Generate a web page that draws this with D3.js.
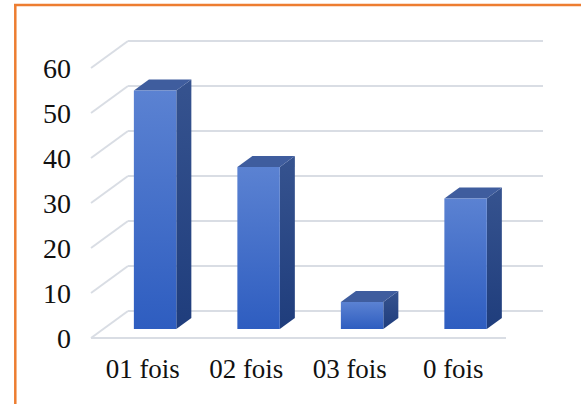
<!DOCTYPE html>
<html>
<head>
    <meta charset="utf-8">
    <script src="https://cdn.jsdelivr.net/npm/d3@7"></script>
</head>
<body style="margin:0">
<script>
    // data
    var categories = ["01 fois", "02 fois", "03 fois", "0 fois"];
    var values = [53, 36, 6, 29];
    var yTicks = [0, 10, 20, 30, 40, 50, 60];

    var width = 581, height = 404;
    var serif = "'Liberation Serif', 'Times New Roman', serif";
    var depthX = 37, depthY = 27;   // floor depth offset (front -> back wall)
    var barFront = 1 / 3, barBack = 0.74; // bar position inside the depth

    var svg = d3.select("body").append("svg")
        .attr("width", width)
        .attr("height", height)
        .style("display", "block")
        .style("font-family", serif);

    // orange frame (top + left only)
    svg.append("line").attr("x1", 14).attr("x2", width).attr("y1", 5).attr("y2", 5)
        .attr("stroke", "#ed7d31").attr("stroke-width", 2.5);
    svg.append("line").attr("x1", 15.3).attr("x2", 15.3).attr("y1", 4).attr("y2", height)
        .attr("stroke", "#ed7d31").attr("stroke-width", 2.5);

    // scales on the front plane
    var x = d3.scaleBand().domain(categories).range([91, 505]).padding(0);
    var y = d3.scaleLinear().domain([0, 60]).range([338, 68]);

    var defs = svg.append("defs");
    var gFront = defs.append("linearGradient").attr("id", "front")
        .attr("x1", 0).attr("y1", 0).attr("x2", 0).attr("y2", 1);
    gFront.append("stop").attr("offset", "0%").attr("stop-color", "#5b82d2");
    gFront.append("stop").attr("offset", "100%").attr("stop-color", "#2e5dc0");
    var gSide = defs.append("linearGradient").attr("id", "side")
        .attr("x1", 0).attr("y1", 0).attr("x2", 0).attr("y2", 1);
    gSide.append("stop").attr("offset", "0%").attr("stop-color", "#36538f");
    gSide.append("stop").attr("offset", "100%").attr("stop-color", "#1f3d7c");

    // gridlines: back wall + left wall diagonals
    var grid = svg.append("g").attr("stroke", "#d9dde4").attr("stroke-width", 2).attr("fill", "none");
    yTicks.forEach(function(t) {
        var yf = y(t);
        grid.append("line")
            .attr("x1", x.range()[0] + depthX).attr("x2", x.range()[1] + depthX + 1)
            .attr("y1", yf - depthY).attr("y2", yf - depthY);
        grid.append("line")
            .attr("x1", x.range()[0]).attr("x2", x.range()[0] + depthX)
            .attr("y1", yf).attr("y2", yf - depthY);
    });
    // front floor edge
    grid.append("line")
        .attr("x1", x.range()[0]).attr("x2", x.range()[1] + 1)
        .attr("y1", y(0)).attr("y2", y(0));

    // y tick labels (plain text from the scale's ticks)
    svg.append("g").selectAll("text")
        .data(yTicks)
        .enter().append("text")
        .attr("x", 71)
        .attr("y", function(d) { return y(d); })
        .attr("dy", "0.35em")
        .attr("text-anchor", "end")
        .style("font-family", serif)
        .style("font-size", "28px")
        .attr("fill", "#111")
        .text(function(d) { return d; });

    // bars
    var bw = x.bandwidth() * 0.41;
    var fdx = depthX * barFront, fdy = depthY * barFront;
    var ddx = depthX * (barBack - barFront), ddy = depthY * (barBack - barFront);

    var bars = svg.selectAll(".bar")
        .data(categories.map(function(c, i) { return { c: c, v: values[i] }; }))
        .enter().append("g").attr("class", "bar");

    bars.each(function(d) {
        var g = d3.select(this);
        var x0 = x(d.c) + (x.bandwidth() - bw) / 2 + fdx;
        var x1 = x0 + bw;
        var yb = y(0) - fdy;
        var yt = y(d.v) - fdy;
        // side
        g.append("path")
            .attr("d", "M" + x1 + "," + yt + "L" + (x1 + ddx) + "," + (yt - ddy) +
                "L" + (x1 + ddx) + "," + (yb - ddy) + "L" + x1 + "," + yb + "Z")
            .attr("fill", "url(#side)");
        // top
        g.append("path")
            .attr("d", "M" + x0 + "," + yt + "L" + (x0 + ddx) + "," + (yt - ddy) +
                "L" + (x1 + ddx) + "," + (yt - ddy) + "L" + x1 + "," + yt + "Z")
            .attr("fill", "#3f5d9e");
        // front
        g.append("rect")
            .attr("x", x0).attr("y", yt)
            .attr("width", bw).attr("height", yb - yt)
            .attr("fill", "url(#front)");
    });

    // category labels
    svg.selectAll(".cat")
        .data(categories)
        .enter().append("text")
        .attr("class", "cat")
        .attr("x", function(d) { return x(d) + x.bandwidth() / 2; })
        .attr("y", 378)
        .attr("text-anchor", "middle")
        .style("font-family", serif)
        .style("font-size", "27px")
        .attr("fill", "#111")
        .text(function(d) { return d; });
</script>
</body>
</html>
